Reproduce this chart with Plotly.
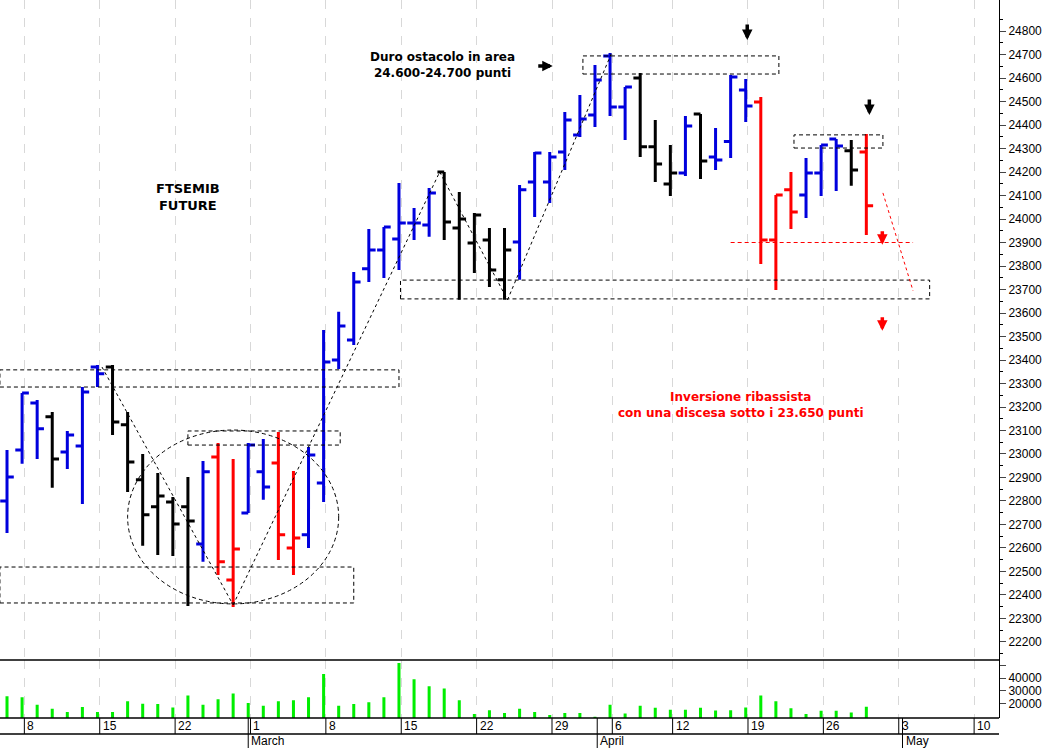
import plotly.graph_objects as go

# ---------------- data ----------------
opens  = [22800,23017,23217,23158,23009,23034,23370,23370,23124,22890,22775,22796,22775,22617,22987,22464,22749,22924,22962,22600,22656,22877,
          23400,23485,23788,23868,23915,23983,23975,24200,23962,23898,23911,23741,23902,24158,24158,24285,24358,24443,24694,24477,24600,24307,
          24149,24196,24447,24264,24330,24549,24498,23911,24124,24102,24196,24340,24290,24285]
highs  = [23017,23260,23230,23179,23098,23285,23379,23379,23179,23000,22919,22817,22902,22970,23047,22979,23047,23064,23094,22928,23030,23528,
          23605,23775,23958,23966,24153,24047,24132,24200,24115,24026,23962,23962,24145,24285,24285,24455,24528,24655,24706,24562,24621,24421,
          24315,24438,24447,24387,24613,24596,24519,24102,24200,24260,24315,24340,24336,24362]
lows   = [22664,22958,22979,22856,22936,22787,23285,23081,22838,22609,22570,22566,22353,22541,22485,22349,22749,22805,22549,22485,22600,22796,
          23362,23464,23732,23749,23783,23911,23924,23911,23656,23770,23711,23656,23741,24009,24068,24209,24349,24392,24438,24336,24264,24158,
          24098,24183,24170,24209,24260,24413,23809,23698,23958,24004,24098,24119,24141,23932]
closes = [22902,23260,23107,22979,23081,23264,23341,23136,22966,22741,22821,22702,22715,22924,22541,22596,23038,22860,22656,22643,22996,23392,
          23545,23732,23868,23966,23983,23983,24111,23987,24000,24017,23783,23868,24124,24281,24264,24421,24426,24592,24477,24562,24307,24234,
          24196,24396,24247,24251,24604,24481,23911,24102,24030,24196,24315,24311,24209,24056]
colors = ["b","b","b","k","b","b","b","k","k","k","k","k","k","b","r","r","b","b","r","r","b","b",
          "b","b","b","b","b","b","b","k","k","k","k","k","b","b","b","b","b","b","b","b","k","k",
          "k","b","k","b","b","b","r","r","r","b","b","b","k","r"]
volumes = [25870,25070,19200,16000,13600,17330,13600,13600,21870,20000,19730,17070,26400,19200,23470,28000,20530,18400,21870,22670,25070,43200,
           18400,19730,21070,25070,52000,39200,33600,32000,22670,12000,14930,12800,16000,13600,11200,12800,12800,9870,19200,12270,18400,16800,
           15200,15200,16800,14670,14930,17070,26400,21870,16530,12000,14400,14400,13070,17600]
week_idx    = [1, 6, 11, 16, 21, 26, 31, 36, 40, 44, 49, 54, 59, 64]
week_labels = ["8", "15", "22", "1", "8", "15", "22", "29", "6", "12", "19", "26", "3", "10"]
month_idx    = [16, 39.15, 59.4]
month_labels = ["March", "April", "May"]

idx = list(range(len(opens)))
COL = {"b": "#0000dd", "k": "#000000", "r": "#ff0000"}
TICK_OFF = 0.15
DASH = "4px,3px"

fig = go.Figure()
for key, c in COL.items():
    sel = [i for i in idx if colors[i] == key]
    fig.add_trace(go.Ohlc(
        x=sel, open=[opens[i] for i in sel], high=[highs[i] for i in sel],
        low=[lows[i] for i in sel], close=[closes[i] for i in sel],
        increasing=dict(line=dict(color=c, width=3)),
        decreasing=dict(line=dict(color=c, width=3)),
        tickwidth=0.45, showlegend=False, hoverinfo="skip",
        xaxis="x", yaxis="y"))

fig.add_trace(go.Bar(x=idx, y=volumes, width=0.2, marker=dict(color="#00ee00", line=dict(width=0)),
                     showlegend=False, xaxis="x2", yaxis="y2", hoverinfo="skip"))

XR = [-0.465, 65.8]
grid = [w + TICK_OFF for w in week_idx]
fig.update_layout(
    width=1046, height=748, margin=dict(l=0, r=47, t=0, b=30, autoexpand=False),
    paper_bgcolor="white", plot_bgcolor="white",
    font=dict(family="Liberation Sans, Arial", size=12, color="black"),
    xaxis=dict(range=XR, anchor="y", tickvals=grid, showticklabels=False, showgrid=True, automargin=False,
               gridcolor="#d8d8d8", griddash="dash", gridwidth=1, zeroline=False, rangeslider=dict(visible=False)),
    xaxis2=dict(range=XR, anchor="y2", matches="x", tickvals=grid, showticklabels=False, showgrid=True,
                automargin=False, gridcolor="#d8d8d8", griddash="dash", gridwidth=1, zeroline=False),
    yaxis=dict(domain=[0.081, 1], range=[22124, 24932], side="right", automargin=False,
               tickvals=list(range(22200, 24801, 100)), ticktext=[str(v) for v in range(22200, 24801, 100)],
               ticks="outside", ticklen=6, tickfont=dict(size=12),
               showline=True, linecolor="black", linewidth=1, showgrid=False, zeroline=False,
               minor=dict(tickvals=list(range(22150, 24951, 100)), ticks="outside", ticklen=3, tickcolor="black")),
    yaxis2=dict(domain=[0, 0.081], range=[8800, 54400], side="right", automargin=False,
                tickvals=[20000, 30000, 40000, 50000], ticktext=["20000", "30000", "40000", ""],
                ticks="outside", ticklen=6, tickfont=dict(size=12), showline=True, linecolor="black", linewidth=1,
                showgrid=False, zeroline=False),
)

def py(p):  # pixel y -> paper y
    return (718 - p) / 718

for yy in [660, 718, 734]:
    fig.add_shape(type="line", xref="paper", yref="paper", x0=0, x1=1, y0=py(yy), y1=py(yy),
                  line=dict(color="black", width=1.5))
for w in grid:
    fig.add_shape(type="line", xref="x", yref="paper", x0=w, x1=w, y0=py(718), y1=py(734),
                  line=dict(color="black", width=1))
for m in month_idx:
    fig.add_shape(type="line", xref="x", yref="paper", x0=m, x1=m, y0=py(718), y1=py(748),
                  line=dict(color="black", width=1))

anns = []
for w, t in zip(grid, week_labels):
    anns.append(dict(x=w, xref="x", y=py(726), yref="paper", text=t, showarrow=False,
                     xanchor="left", yanchor="middle", xshift=1, font=dict(size=12)))
for m, t in zip(month_idx, month_labels):
    anns.append(dict(x=m, xref="x", y=py(741), yref="paper", text=t, showarrow=False,
                     xanchor="left", yanchor="middle", xshift=1, font=dict(size=12)))

rects = [(-0.47, 26.0, 23285, 23358), (12.0, 22.1, 23038, 23098), (-0.47, 23.0, 22366, 22519),
         (26.1, 61.2, 23660, 23740), (38.2, 51.2, 24617, 24694), (52.2, 58.1, 24302, 24358)]
for x0, x1, y0, y1 in rects:
    fig.add_shape(type="rect", xref="x", yref="y", x0=x0, x1=x1, y0=y0, y1=y1,
                  line=dict(color="black", width=1, dash=DASH))
fig.add_shape(type="circle", xref="x", yref="y", x0=8.0, x1=22.0, y0=22362, y1=23102,
              line=dict(color="black", width=1, dash=DASH))
zig = [(6.3, 23370), (15.0, 22358), (28.7, 24200), (33.2, 23656), (40.1, 24706)]
for (a, b), (c, d) in zip(zig[:-1], zig[1:]):
    fig.add_shape(type="line", xref="x", yref="y", x0=a, y0=b, x1=c, y1=d,
                  line=dict(color="black", width=1, dash="dot"))
fig.add_shape(type="line", xref="x", yref="y", x0=48.0, x1=60.1, y0=23900, y1=23900,
              line=dict(color="red", width=1, dash=DASH))
fig.add_shape(type="line", xref="x", yref="y", x0=58.1, y0=24111, x1=60.1, y1=23694,
              line=dict(color="red", width=1, dash="dot"))

tf = dict(family="DejaVu Sans", size=12)
anns += [
    dict(x=12.0, y=24094, xref="x", yref="y", text="<b>FTSEMIB<br>FUTURE</b>", showarrow=False,
         font=dict(tf, size=13)),
    dict(x=28.9, y=24655, xref="x", yref="y", text="<b>Duro ostacolo in area<br>24.600-24.700 punti</b>",
         showarrow=False, font=tf),
    dict(x=48.7, y=23209, xref="x", yref="y",
         text="<b>Inversione ribassista<br>con una discesa sotto i 23.650 punti</b>",
         showarrow=False, font=dict(tf, color="red")),
]
arrows = [(36.2, 24651, -16, 0, "black"), (49.1, 24762, 0, -17, "black"), (57.2, 24443, 0, -17, "black"),
          (58.06, 23890, 0, -15, "red"), (58.06, 23524, 0, -15, "red")]
for x, y, ax, ay, c in arrows:
    anns.append(dict(x=x, y=y, xref="x", yref="y", ax=ax, ay=ay, text="", showarrow=True,
                     arrowhead=2, arrowsize=0.6, arrowwidth=3.5, arrowcolor=c))
fig.update_layout(annotations=anns)

fig.write_html("out.html", config={"displayModeBar": False})
with open("out.html", encoding="utf-8") as f:
    html = f.read()
html = html.replace("<head>", "<head><style>html,body{margin:0;padding:0;overflow:hidden}</style>", 1)
with open("out.html", "w", encoding="utf-8") as f:
    f.write(html)
